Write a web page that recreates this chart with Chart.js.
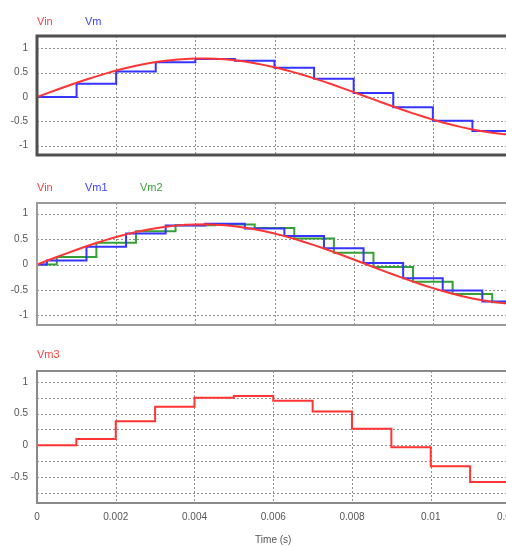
<!DOCTYPE html>
<html><head><meta charset="utf-8">
<script src="https://cdn.jsdelivr.net/npm/chart.js@4.4.1/dist/chart.umd.min.js"></script>
<style>
html,body{margin:0;padding:0;background:#fff;width:506px;height:546px;overflow:hidden;}
#wrap{position:relative;width:506px;height:546px;overflow:hidden;font-family:"Liberation Sans",Arial,sans-serif;background:#fff;}
canvas{position:absolute;left:0;}
.lg{position:absolute;font-size:11px;line-height:12px;white-space:nowrap;}
</style></head><body><div id="wrap">
<canvas id="c1" width="530" height="170" style="top:0;width:530px;height:170px"></canvas>
<canvas id="c2" width="530" height="170" style="top:170px;width:530px;height:170px"></canvas>
<canvas id="c3" width="530" height="206" style="top:340px;width:530px;height:206px"></canvas>
<span class="lg" style="left:37px;top:15px;color:#ff4040">Vin</span>
<span class="lg" style="left:85px;top:15px;color:#4040ff">Vm</span>
<span class="lg" style="left:37px;top:181px;color:#ff4040">Vin</span>
<span class="lg" style="left:85px;top:181px;color:#4040ff">Vm1</span>
<span class="lg" style="left:140px;top:181px;color:#3c9c3c">Vm2</span>
<span class="lg" style="left:37px;top:348px;color:#ff4040">Vm3</span>
</div>
<script>
// ---- data (time in seconds, voltages) ----
const vinTime = [0,0.00025,0.0005,0.00075,0.001,0.00125,0.0015,0.00175,0.002,0.00225,0.0025,0.00275,0.003,0.00325,0.0035,0.00375,0.004,0.00425,0.0045,0.00475,0.005,0.00525,0.0055,0.00575,0.006,0.00625,0.0065,0.00675,0.007,0.00725,0.0075,0.00775,0.008,0.00825,0.0085,0.00875,0.009,0.00925,0.0095,0.00975,0.01,0.01025,0.0105,0.01075,0.011,0.01125,0.0115,0.01175,0.012];
const vinValues = [0,0.074,0.148,0.220,0.291,0.359,0.423,0.484,0.541,0.593,0.639,0.680,0.715,0.743,0.765,0.780,0.788,0.790,0.784,0.771,0.751,0.725,0.692,0.653,0.609,0.559,0.504,0.444,0.381,0.314,0.244,0.172,0.099,0.025,-0.050,-0.124,-0.196,-0.268,-0.336,-0.402,-0.464,-0.522,-0.576,-0.624,-0.667,-0.704,-0.735,-0.759,-0.776];

const stepTime = [0,0.001,0.002,0.003,0.004,0.005,0.006,0.007,0.008,0.009,0.01,0.011,0.012];
const vmValues = [0,0.27,0.52,0.71,0.78,0.745,0.60,0.375,0.08,-0.21,-0.49,-0.70,-0.70];

const vm1Time = [0,0.00025,0.00125,0.00225,0.00325,0.00425,0.00525,0.00625,0.00725,0.00825,0.00925,0.01025,0.01125,0.012];
const vm1Values = [0,0.08,0.35,0.61,0.765,0.80,0.71,0.56,0.32,0.03,-0.27,-0.51,-0.73,-0.73];

const vm2Time = [0,0.0005,0.0015,0.0025,0.0035,0.0045,0.0055,0.0065,0.0075,0.0085,0.0095,0.0105,0.0115,0.012];
const vm2Values = [0,0.15,0.43,0.655,0.77,0.785,0.72,0.51,0.23,-0.05,-0.34,-0.58,-0.74,-0.74];

const vm3Values = [0,0.10,0.38,0.605,0.75,0.775,0.70,0.53,0.26,-0.03,-0.33,-0.58,-0.58];

const xTicks = [0,0.002,0.004,0.006,0.008,0.01,0.012];
const yTicksTop = [-1,-0.5,0,0.5,1];
const yTicksBottom = [-0.75,-0.5,-0.25,0,0.25,0.5,0.75,1];

// ---- helpers ----
const RED = '#ff3535', BLUE = '#3535ff', GREEN = '#35a035';
const pts = (xs, ys) => xs.map((x, i) => ({x, y: ys[i]}));

// dotted grid drawn at the scales' tick positions
const dottedGrid = {
  id: 'dottedGrid',
  beforeDatasetsDraw(chart) {
    const {ctx, chartArea: a, scales: {x, y}} = chart;
    ctx.save();
    ctx.strokeStyle = '#8f8f8f';
    ctx.lineWidth = 1;
    ctx.setLineDash([2, 2]);
    ctx.beginPath();
    x.ticks.forEach(t => {
      const px = Math.round(x.getPixelForValue(t.value)) + 0.5;
      ctx.moveTo(px, a.top); ctx.lineTo(px, a.bottom);
    });
    y.ticks.forEach(t => {
      const py = Math.round(y.getPixelForValue(t.value)) + 0.5;
      ctx.moveTo(a.left, py); ctx.lineTo(a.right, py);
    });
    ctx.stroke();
    ctx.restore();
  }
};
const frame = {
  id: 'frame',
  afterDatasetsDraw(chart, args, opts) {
    const {ctx, chartArea: a} = chart;
    ctx.save();
    ctx.strokeStyle = opts.color;
    ctx.lineWidth = opts.width;
    ctx.strokeRect(a.left, a.top, a.right - a.left, a.bottom - a.top);
    ctx.restore();
  }
};
const tickFont = {family: '"Liberation Sans", Arial, sans-serif', size: 10};
const gridStyle = {drawOnChartArea: false, drawTicks: false};

function line(label, data, color, stepped) {
  return {label, data, borderColor: color, borderWidth: 2, pointRadius: 0,
          tension: 0, stepped: stepped ? 'before' : false, fill: false};
}

function makeChart(id, datasets, yMin, yMax, yTicks, opt) {
  const labelEvery = opt.labelEvery;
  return new Chart(document.getElementById(id), {
    type: 'line',
    data: {datasets},
    options: {
      responsive: false, animation: false, devicePixelRatio: 1,
      layout: {padding: {top: opt.padTop, bottom: opt.padBottom, left: 0, right: 18}},
      plugins: {legend: {display: false}, tooltip: {enabled: false}, frame: {color: opt.frameColor, width: opt.frameWidth}},
      scales: {
        x: {
          type: 'linear', min: 0, max: 0.012,
          afterBuildTicks: s => { s.ticks = xTicks.map(v => ({value: v})); },
          afterFit: s => { s.height = opt.xHeight; },
          border: {display: false},
          grid: gridStyle,
          ticks: {display: opt.xLabels, padding: 8, color: '#555', font: tickFont, maxRotation: 0,
                  callback: v => String(v)},
          title: {display: opt.xLabels, text: 'Time (s)', color: '#555', font: tickFont, padding: {top: 0, bottom: 0}}
        },
        y: {
          type: 'linear', min: yMin, max: yMax,
          afterBuildTicks: s => { s.ticks = yTicks.map(v => ({value: v})); },
          afterFit: s => { s.width = 37; },
          border: {display: false},
          grid: gridStyle,
          ticks: {padding: 9, color: '#555', font: tickFont,
                  callback: v => (Math.abs(v / labelEvery - Math.round(v / labelEvery)) < 1e-6 ? String(Math.round(v * 100) / 100) : '')}
        }
      }
    },
    plugins: [dottedGrid, frame]
  });
}

makeChart('c1', [
  line('Vin', pts(vinTime, vinValues), RED, false),
  line('Vm', pts(stepTime, vmValues), BLUE, true)
], -1.19, 1.25, yTicksTop, {padTop: 36, padBottom: 8, xHeight: 0, xLabels: false, frameColor: '#505050', frameWidth: 3, labelEvery: 0.5});

makeChart('c2', [
  line('Vin', pts(vinTime, vinValues), RED, false),
  line('Vm1', pts(vm1Time, vm1Values), BLUE, true),
  line('Vm2', pts(vm2Time, vm2Values), GREEN, true)
], -1.19, 1.21, yTicksTop, {padTop: 33, padBottom: 13, xHeight: 0, xLabels: false, frameColor: '#9a9a9a', frameWidth: 2, labelEvery: 0.5});

makeChart('c3', [
  line('Vm3', pts(stepTime, vm3Values), RED, true)
], -0.91, 1.17, yTicksBottom, {padTop: 31, padBottom: 0, xHeight: 43, xLabels: true, frameColor: '#8a8a8a', frameWidth: 2, labelEvery: 0.5});
</script>
</body></html>
